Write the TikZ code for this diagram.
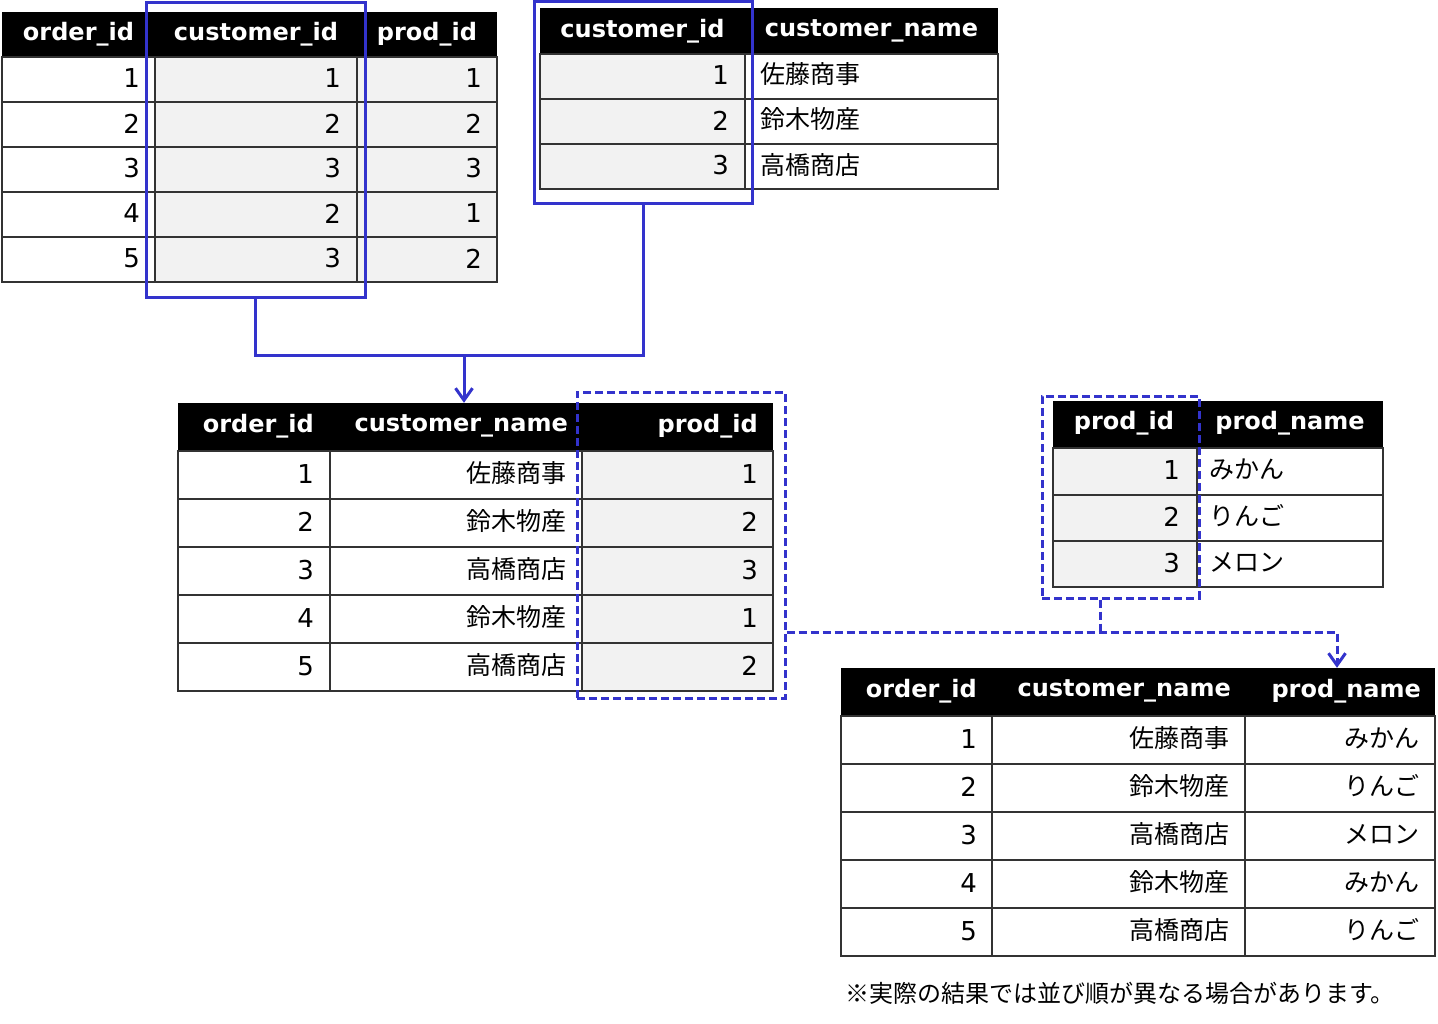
\documentclass[tikz,border=0pt]{standalone}
\usepackage{fontspec}
\setmainfont{DejaVu Sans}
\newfontfamily\jpfamily{Noto Sans CJK JP}
\usepackage{xcolor}
\usepackage{tikz}
\usetikzlibrary{arrows.meta}

\definecolor{selblue}{RGB}{51,51,204}
\newcommand{\hdfont}{\fontsize{24}{28}\selectfont\bfseries}
\newcommand{\numfont}{\fontsize{26}{30}\selectfont}
\newcommand{\jptext}{\jpfamily\fontsize{25}{30}\selectfont}
\newcommand{\notetext}{\jpfamily\fontsize{24}{28}\selectfont}

\begin{document}
\begin{tikzpicture}[x=1pt,y=-1pt,
	hdbar/.style={fill=black,inner sep=0pt},
	hd/.style={text=white,font=\hdfont,inner sep=0pt},
	num/.style={anchor=east,font=\numfont,inner sep=0pt},
	jp/.style={font=\jptext,inner sep=0pt},
	cell/.style={draw=black!80,line width=2pt},
	selbox/.style={draw=selblue,line width=3pt,inner sep=0pt},
	dselbox/.style={selbox,dash pattern=on 8pt off 4pt},
	link/.style={draw=selblue,line width=3pt},
	dlink/.style={link,dash pattern=on 8pt off 4pt},
	tip/.style={-{Straight Barb[length=12pt,width=17pt]}}]
	\path[fill=white] (0,0) rectangle (1438,1023);
	\useasboundingbox (0,0) rectangle (1438,1023);

	% orders
	\fill[gray!10] (155,57) rectangle (497,282);
	\node[hdbar,minimum width=495,minimum height=45] at (249.5,34.5) (tabA) {};
	\draw[cell] (2,57) rectangle (497,282);
	\draw[cell] (2,102) -- (497,102) (2,147) -- (497,147) (2,192) -- (497,192) (2,237) -- (497,237);
	\draw[cell] (155,57) -- (155,282) (357,57) -- (357,282);

	\node[hd] at (78.5,34.5)  (a-h1) {order\_id};
	\node[hd] at (256,34.5)   (a-h2) {customer\_id};
	\node[hd] at (427,34.5)   (a-h3) {prod\_id};

	\node[num] at (140,78.5)  (a-11) {1};
	\node[num] at (341,78.5)  (a-12) {1};
	\node[num] at (482,78.5)  (a-13) {1};
	\node[num] at (140,123.5) (a-21) {2};
	\node[num] at (341,123.5) (a-22) {2};
	\node[num] at (482,123.5) (a-23) {2};
	\node[num] at (140,168.5) (a-31) {3};
	\node[num] at (341,168.5) (a-32) {3};
	\node[num] at (482,168.5) (a-33) {3};
	\node[num] at (140,213.5) (a-41) {4};
	\node[num] at (341,213.5) (a-42) {2};
	\node[num] at (482,213.5) (a-43) {1};
	\node[num] at (140,258.5) (a-51) {5};
	\node[num] at (341,258.5) (a-52) {3};
	\node[num] at (482,258.5) (a-53) {2};

	% customers
	\fill[gray!10] (540,54) rectangle (745,189);
	\node[hdbar,minimum width=458,minimum height=46] at (769,31) (tabB) {};
	\draw[cell] (540,54) rectangle (998,189);
	\draw[cell] (540,99) -- (998,99) (540,144) -- (998,144);
	\draw[cell] (745,54) -- (745,189);

	\node[hd] at (642.5,31)  (b-h1) {customer\_id};
	\node[hd] at (871.5,31)  (b-h2) {customer\_name};

	\node[num] at (729,75.5)  (b-11) {1};
	\node[jp,anchor=west] at (760,74.5)  (b-12) {佐藤商事};
	\node[num] at (729,120.5) (b-21) {2};
	\node[jp,anchor=west] at (760,119.5) (b-22) {鈴木物産};
	\node[num] at (729,165.5) (b-31) {3};
	\node[jp,anchor=west] at (760,164.5) (b-32) {高橋商店};

	% orders + customers
	\fill[gray!10] (582,451) rectangle (773,691);
	\node[hdbar,minimum width=595,minimum height=48] at (475.5,427) (tabC) {};
	\draw[cell] (178,451) rectangle (773,691);
	\draw[cell] (178,499) -- (773,499) (178,547) -- (773,547) (178,595) -- (773,595) (178,643) -- (773,643);
	\draw[cell] (330,451) -- (330,691) (582,451) -- (582,691);

	\node[hd,anchor=east] at (314,426) (c-h1) {order\_id};
	\node[hd,anchor=east] at (568,426) (c-h2) {customer\_name};
	\node[hd,anchor=east] at (758,426) (c-h3) {prod\_id};

	\node[num] at (314,474) (c-11) {1};
	\node[jp,anchor=east] at (567,473) (c-12) {佐藤商事};
	\node[num] at (758,474) (c-13) {1};
	\node[num] at (314,522) (c-21) {2};
	\node[jp,anchor=east] at (567,521) (c-22) {鈴木物産};
	\node[num] at (758,522) (c-23) {2};
	\node[num] at (314,570) (c-31) {3};
	\node[jp,anchor=east] at (567,569) (c-32) {高橋商店};
	\node[num] at (758,570) (c-33) {3};
	\node[num] at (314,618) (c-41) {4};
	\node[jp,anchor=east] at (567,617) (c-42) {鈴木物産};
	\node[num] at (758,618) (c-43) {1};
	\node[num] at (314,666) (c-51) {5};
	\node[jp,anchor=east] at (567,665) (c-52) {高橋商店};
	\node[num] at (758,666) (c-53) {2};

	% products
	\fill[gray!10] (1053,448) rectangle (1197,587);
	\node[hdbar,minimum width=330,minimum height=47] at (1218,424.5) (tabE) {};
	\draw[cell] (1053,448) rectangle (1383,587);
	\draw[cell] (1053,494.5) -- (1383,494.5) (1053,541) -- (1383,541);
	\draw[cell] (1197,448) -- (1197,587);

	\node[hd] at (1124,423.5) (e-h1) {prod\_id};
	\node[hd] at (1290,423.5) (e-h2) {prod\_name};

	\node[num] at (1180,470) (e-11) {1};
	\node[jp,anchor=west] at (1209,469) (e-12) {みかん};
	\node[num] at (1180,517) (e-21) {2};
	\node[jp,anchor=west] at (1209,516) (e-22) {りんご};
	\node[num] at (1180,563) (e-31) {3};
	\node[jp,anchor=west] at (1209,562) (e-32) {メロン};

	% result
	\node[hdbar,minimum width=594,minimum height=48] at (1138,692) (tabD) {};
	\draw[cell] (841,716) rectangle (1435,956);
	\draw[cell] (841,764) -- (1435,764) (841,812) -- (1435,812) (841,860) -- (1435,860) (841,908) -- (1435,908);
	\draw[cell] (992,716) -- (992,956) (1245,716) -- (1245,956);

	\node[hd,anchor=east] at (977,691)  (d-h1) {order\_id};
	\node[hd,anchor=east] at (1231,691) (d-h2) {customer\_name};
	\node[hd,anchor=east] at (1421,691) (d-h3) {prod\_name};

	\node[num] at (977,739) (d-11) {1};
	\node[jp,anchor=east] at (1230,738) (d-12) {佐藤商事};
	\node[jp,anchor=east] at (1420,738) (d-13) {みかん};
	\node[num] at (977,787) (d-21) {2};
	\node[jp,anchor=east] at (1230,786) (d-22) {鈴木物産};
	\node[jp,anchor=east] at (1420,786) (d-23) {りんご};
	\node[num] at (977,835) (d-31) {3};
	\node[jp,anchor=east] at (1230,834) (d-32) {高橋商店};
	\node[jp,anchor=east] at (1420,834) (d-33) {メロン};
	\node[num] at (977,883) (d-41) {4};
	\node[jp,anchor=east] at (1230,882) (d-42) {鈴木物産};
	\node[jp,anchor=east] at (1420,882) (d-43) {みかん};
	\node[num] at (977,931) (d-51) {5};
	\node[jp,anchor=east] at (1230,930) (d-52) {高橋商店};
	\node[jp,anchor=east] at (1420,930) (d-53) {りんご};

	\node[font=\notetext,anchor=west,inner sep=0pt] at (845,993) (note) {※実際の結果では並び順が異なる場合があります。};

	% key columns
	\node[selbox,minimum width=219,minimum height=295] at (255.5,149.5) (selA) {};
	\node[selbox,minimum width=218,minimum height=202] at (643,102)     (selB) {};
	\node[dselbox,minimum width=208,minimum height=306] at (681,545)    (selC) {};
	\node[dselbox,minimum width=157,minimum height=202] at (1120.5,497) (selE) {};

	\coordinate (joinAB) at (464,355);
	\draw[link] (selA.south) |- (joinAB) -| (selB.south);
	\draw[link,tip] (joinAB) -- (joinAB |- tabC.north);

	\coordinate (joinCE) at (1100,632);
	\coordinate (bendD)  at (1337,632);
	\draw[dlink] (joinCE |- selE.south) -- (joinCE);
	\draw[dlink,tip] (selC.east |- joinCE) -| (bendD |- tabD.north);
\end{tikzpicture}
\end{document}
